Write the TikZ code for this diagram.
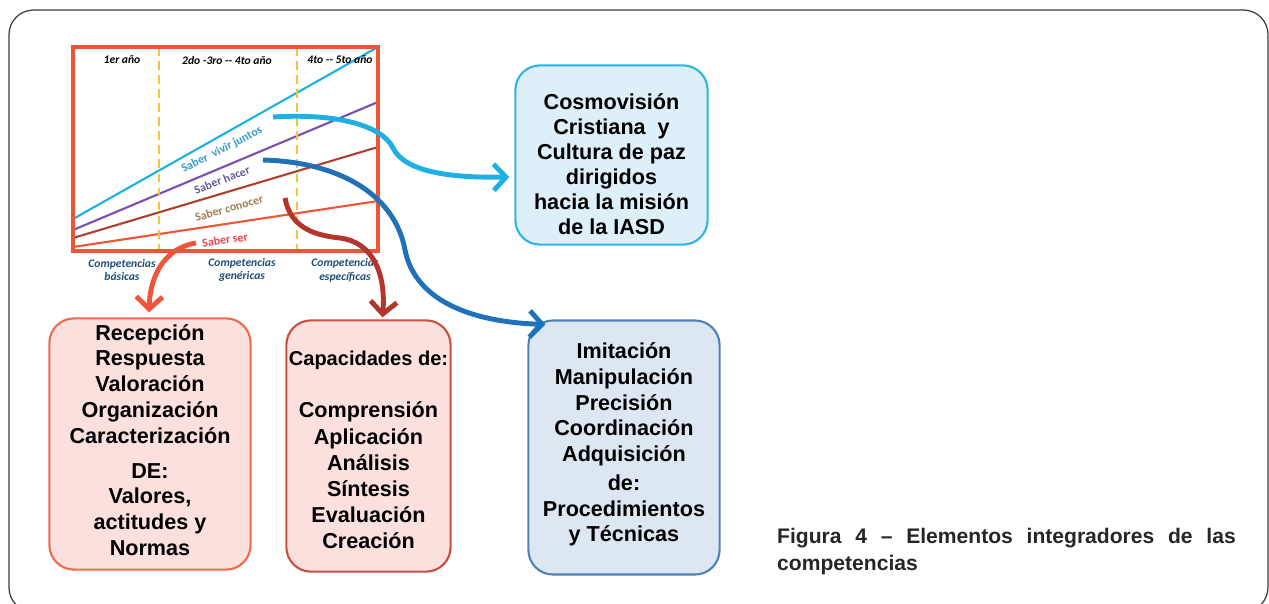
\documentclass[tikz,border=0pt]{standalone}
\usepackage{fontspec}
\setmainfont{Liberation Sans}
\newfontfamily\calib{Carlito}
\usetikzlibrary{arrows.meta,calc}

\definecolor{marcoGris}{HTML}{3A3A3A}
\definecolor{textoTitulo}{HTML}{262626}
\definecolor{rojoCuadro}{HTML}{EE5536}
\definecolor{amarillo}{HTML}{F2C53D}
\definecolor{cian}{HTML}{1DB0E2}
\definecolor{morado}{HTML}{7A4FB3}
\definecolor{marron}{HTML}{B0402E}
\definecolor{rojoLinea}{HTML}{F0553A}
\definecolor{azulFlecha}{HTML}{1F72B8}
\definecolor{rojoFlecha}{HTML}{B5352A}
\definecolor{azulComp}{HTML}{1F4E79}
\definecolor{txtVivir}{HTML}{3A9CC4}
\definecolor{txtHacer}{HTML}{6A5AA0}
\definecolor{txtConocer}{HTML}{A08050}
\definecolor{txtSer}{HTML}{E8454A}
\definecolor{rosa}{HTML}{FBE0DE}
\definecolor{bordeRosa}{HTML}{EC6B4D}
\definecolor{bordeRojo}{HTML}{C8503F}
\definecolor{celeste}{HTML}{DDEFF9}
\definecolor{bordeCeleste}{HTML}{2FB3E6}
\definecolor{azulClaro}{HTML}{DCE7F2}
\definecolor{bordeAzul}{HTML}{4F81B5}

\tikzset{
  caja/.style={draw, line width=1.2pt, rounded corners=14pt, inner sep=0pt},
  texto/.style={align=center, inner sep=0pt, font=\bfseries\fontsize{12.3}{14.7}\selectfont},
  flecha/.style={line width=2.8pt, -{Straight Barb[length=7pt,width=15pt]}},
  enc/.style={font=\calib\bfseries\itshape\fontsize{6.6}{8}\selectfont},
  comp/.style={font=\calib\bfseries\itshape\fontsize{6.6}{7.8}\selectfont,
    text=azulComp, align=center},
  saber/.style={inner sep=0pt, font=\calib\bfseries\fontsize{6.8}{8}\selectfont}
}

\newcommand{\competencia}[3]{
\node[comp] (#1) at (#2,270) {Competencias\\#3};}

\begin{document}
\begin{tikzpicture}[x=0.02cm,y=-0.02cm]
\useasboundingbox (0,0) rectangle (1269,603);
\clip (0,0) rectangle (1269,603);
\draw[marcoGris, line width=0.7pt, rounded corners=14pt] (9,10) rectangle (1268,612);

% grafico de saberes
\draw[cian, line width=1.2pt] (73,219)--(378,47);
\draw[morado, line width=1.2pt] (73,230)--(378,102);
\draw[marron, line width=1.2pt] (73,238)--(378,147);
\draw[rojoLinea, line width=1.2pt] (73,247)--(378,201);
\foreach \x in {159,297}{
	\draw[amarillo, line width=1.4pt, dash pattern=on 5pt off 3pt] (\x,47)--(\x,251);
}
\draw[rojoCuadro, line width=1.8pt] (73,47) rectangle (378,251);

\node[enc] (anio1) at (122,60) {1er año};
\node[enc] (anio2) at (227,60) {2do -3ro -- 4to año};
\node[enc] (anio3) at (340,60) {4to -- 5to año};

\node[saber, text=txtVivir, rotate=27] (vivir) at (222,150) {Saber \ vivir juntos};
\node[saber, text=txtHacer, rotate=21] (hacer) at (222,180) {Saber hacer};
\node[saber, text=txtConocer, rotate=16] (conocer) at (229,208) {Saber conocer};
\node[saber, text=txtSer, rotate=9] (ser) at (225,240) {Saber ser};

\competencia{basicas}{122}{básicas}
\competencia{genericas}{242}{genéricas}
\competencia{especificas}{345}{específicas}

% cajas
\node[caja, draw=bordeCeleste, fill=celeste, minimum width=109.4pt, minimum height=102pt] (cosmo) at (611.5,155) {};
\node[texto, font=\bfseries\fontsize{12.3}{14.3}\selectfont] (cosmoTxt) at ($(cosmo)+(0,9)$)
  {Cosmovisión\\Cristiana \ y\\Cultura de paz\\dirigidos\\hacia la misión\\de la IASD};
\node[caja, draw=bordeRosa, fill=rosa, minimum width=114.5pt, minimum height=143pt] (recep) at (150,444) {};
\node[texto] (recepTxt) at ($(recep)+(0,-4)$)
  {Recepción\\Respuesta\\Valoración\\Organización\\Caracterización\\[5pt]DE:\\Valores,\\actitudes y\\Normas};
\node[caja, draw=bordeRojo, fill=rosa, minimum width=93.5pt, minimum height=143pt] (capac) at (368.5,446) {};
\node[texto, font=\bfseries\fontsize{12.3}{14.9}\selectfont] (capacTxt) at ($(capac)+(0,4)$)
  {{\fontsize{11.4}{14.9}\selectfont Capacidades de:}\\[14.9pt]Comprensión\\Aplicación\\Análisis\\Síntesis\\Evaluación\\Creación};
\node[caja, draw=bordeAzul, fill=azulClaro, minimum width=108.8pt, minimum height=144.6pt] (imit) at (624,447.5) {};
\node[texto] (imitTxt) at ($(imit)+(0,-3)$)
  {Imitación\\Manipulación\\Precisión\\Coordinación\\Adquisición\\[1.5pt]de:\\Procedimientos\\y Técnicas};

\node[anchor=north west, text width=261pt, align=justify, text=textoTitulo,
  font=\bfseries\fontsize{12}{15.6}\selectfont] (titulo) at (771,522)
  {Figura 4 -- Elementos integradores de las \mbox{competencias}};

% flechas
\coordinate (vivirFin) at (273,117);
\coordinate (hacerFin) at (263,160);
\coordinate (conocerFin) at (285,198);
\coordinate (serFin) at (196,243);

\draw[flecha, cian] (vivirFin) .. controls (335,113) and (382,125) .. (393,148)
  .. controls (405,172) and (450,178) .. ($(cosmo.west)+(-5,22)$);
\draw[flecha, azulFlecha] (hacerFin) .. controls (340,162) and (395,195) .. (405,250)
  .. controls (415,300) and (470,322) .. ($(imit.north west)+(18,5)$);
\draw[flecha, rojoFlecha] (conocerFin) .. controls (290,225) and (310,235) .. (340,238)
  .. controls (372,242) and (386,272) .. ($(capac.north)+(14,-2)$);
\draw[flecha, rojoLinea] (serFin) .. controls (165,248) and (150,275) .. ($(recep.north)+(-1,-5)$);
\end{tikzpicture}
\end{document}
